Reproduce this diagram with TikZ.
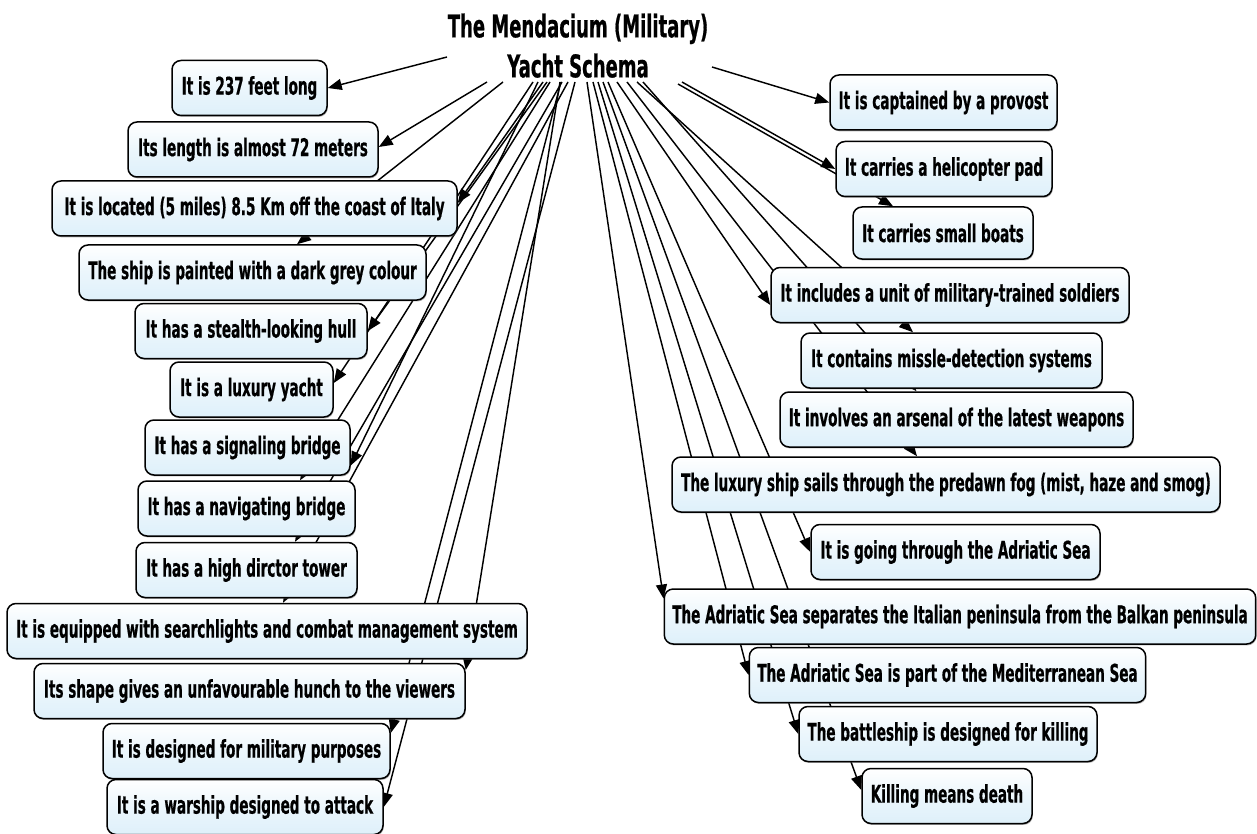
\documentclass[tikz,border=0pt]{standalone}
\usepackage{fontspec}
\newfontfamily\boxfont{DejaVu Sans}[FakeStretch=0.556, BoldFeatures={FakeBold=0.6}]
\newfontfamily\titlefont{DejaVu Sans}[FakeStretch=0.575, BoldFeatures={FakeBold=0.6}]
\usetikzlibrary{arrows.meta,shadows}
\definecolor{boxblue}{RGB}{222,240,250}
\pgfdeclarelayer{back}
\pgfdeclarelayer{bg}
\pgfsetlayers{back,bg,main}
\begin{document}
\begin{tikzpicture}[x=1pt,y=-1pt,
  cbox/.style={draw=black, line width=1.5pt, rounded corners=9pt,
    top color=white, bottom color=boxblue, middle color=boxblue!60!white,
    minimum height=55pt, inner xsep=8pt, inner ysep=0pt,
    font=\boxfont\bfseries\fontsize{24.4}{27}\selectfont,
    drop shadow={shadow xshift=0.8pt, shadow yshift=-1.4pt, fill=black!60}},
  conn/.style={line width=1.45pt, -{Triangle[length=14pt,width=11pt]}}]
\useasboundingbox (0,0) rectangle (1257,834);
\begin{pgfonlayer}{back}
\fill[white] (0,0) rectangle (1257,834);
\end{pgfonlayer}

\node[font=\titlefont\bfseries\fontsize{31.3}{40}\selectfont, align=center, inner sep=0pt, anchor=south] (title) at (578,78) {The Mendacium (Military)\\Yacht Schema};

% left column
\node[cbox, minimum width=155pt] (L1) at (249.5,88) {It is 237 feet long};
\node[cbox, minimum width=250pt] (L2) at (253,149.5) {Its length is almost 72 meters};
\node[cbox, minimum width=405pt] (L3) at (254.5,208.5) {It is located (5 miles) 8.5 Km off the coast of Italy};
\node[cbox, minimum width=347pt] (L4) at (252.5,272.5) {The ship is painted with a dark grey colour};
\node[cbox, minimum width=232pt] (L5) at (251,331) {It has a stealth-looking hull};
\node[cbox, minimum width=163pt] (L6) at (251.5,389.5) {It is a luxury yacht};
\node[cbox, minimum width=205pt] (L7) at (247.5,447.5) {It has a signaling bridge};
\node[cbox, minimum width=217pt] (L8) at (246.5,508.5) {It has a navigating bridge};
\node[cbox, minimum width=221pt] (L9) at (246.5,570) {It has a high dirctor tower};
\node[cbox, minimum width=520pt] (L10) at (267,631) {It is equipped with searchlights and combat management system};
\node[cbox, minimum width=431pt] (L11) at (249.5,691) {Its shape gives an unfavourable hunch to the viewers};
\node[cbox, minimum width=287pt] (L12) at (246.5,751) {It is designed for military purposes};
\node[cbox, minimum width=276pt] (L13) at (245,807) {It is a warship designed to attack};

% right column
\node[cbox, minimum width=227pt] (R1) at (943.5,102.5) {It is captained by a provost};
\node[cbox, minimum width=216pt] (R2) at (944,169) {It carries a helicopter pad};
\node[cbox, minimum width=180pt, minimum height=52pt] (R3) at (943,233) {It carries small boats};
\node[cbox, minimum width=358pt] (R4) at (950,295) {It includes a unit of military-trained soldiers};
\node[cbox, minimum width=301pt] (R5) at (951.5,360.5) {It contains missle-detection systems};
\node[cbox, minimum width=353pt] (R6) at (956.5,419.5) {It involves an arsenal of the latest weapons};
\node[cbox, minimum width=548pt] (R7) at (946,484.5) {The luxury ship sails through the predawn fog (mist, haze and smog)};
\node[cbox, minimum width=289pt] (R8) at (955.5,552) {It is going through the Adriatic Sea};
\node[cbox, minimum width=590pt] (R9) at (960,616.5) {The Adriatic Sea separates the Italian peninsula from the Balkan peninsula};
\node[cbox, minimum width=395pt] (R10) at (947.5,675) {The Adriatic Sea is part of the Mediterranean Sea};
\node[cbox, minimum width=298pt] (R11) at (948,734) {The battleship is designed for killing};
\node[cbox, minimum width=170pt] (R12) at (947,796) {Killing means death};

\begin{pgfonlayer}{bg}
% left connectors
\draw[conn] ([xshift=-131pt,yshift=21pt]title.south) -- (L1.east);
\draw[conn] ([xshift=-91pt,yshift=-4pt]title.south) -- ([yshift=2.5pt]L2.east);
\draw[conn] ([xshift=-35pt,yshift=-4pt]title.south) -- ([yshift=5.5pt]L3.east);
\draw[conn] ([xshift=-75pt,yshift=-4pt]title.south) -- ([xshift=44.5pt]L4.north);
\draw[conn] ([xshift=-31pt,yshift=-4pt]title.south) -- (L5.east);
\draw[conn] ([xshift=-45pt,yshift=-4pt]title.south) -- ([yshift=6.5pt]L6.east);
\draw[conn] ([xshift=-40pt,yshift=-4pt]title.south) -- ([yshift=-18pt]L7.east);
\draw[conn] ([xshift=-28pt,yshift=-4pt]title.south) -- ([xshift=53.5pt]L8.north);
\draw[conn] ([xshift=-16pt,yshift=-4pt]title.south) -- ([xshift=48.5pt]L9.north);
\draw[conn] ([xshift=-10pt,yshift=-4pt]title.south) -- ([xshift=16pt]L10.north);
\draw[conn] ([xshift=-18pt,yshift=-4pt]title.south) -- ([yshift=21pt]L11.east);
\draw[conn] ([xshift=-17pt,yshift=-4pt]title.south) -- ([yshift=18pt]L12.east);
\draw[conn] ([xshift=-3pt,yshift=-4pt]title.south) -- (L13.east);
% right connectors
\draw[conn] ([xshift=134pt,yshift=11pt]title.south) -- (R1.west);
\draw[conn] ([xshift=104pt,yshift=-4pt]title.south) -- (R2.west);
\draw[conn] ([xshift=100pt,yshift=-6pt]title.south) -- ([xshift=-50pt]R3.north);
\draw[conn] ([xshift=39pt,yshift=-4pt]title.south) -- ([yshift=-10pt]R4.west);
\draw[conn] ([xshift=59pt,yshift=-4pt]title.south) -- ([xshift=-38.5pt]R5.north);
\draw[conn] ([xshift=65pt,yshift=-4pt]title.south) -- ([xshift=-40pt]R6.north);
\draw[conn] ([xshift=49pt,yshift=-4pt]title.south) -- ([xshift=-29pt]R7.north);
\draw[conn] ([xshift=30pt,yshift=-4pt]title.south) -- (R8.west);
\draw[conn] ([xshift=9pt,yshift=-4pt]title.south) -- ([yshift=18pt]R9.west);
\draw[conn] ([xshift=15pt,yshift=-4pt]title.south) -- (R10.west);
\draw[conn] ([xshift=20pt,yshift=-4pt]title.south) -- (R11.west);
\draw[conn] ([xshift=25pt,yshift=-4pt]title.south) -- ([yshift=6pt]R12.west);
\end{pgfonlayer}
\end{tikzpicture}
\end{document}
